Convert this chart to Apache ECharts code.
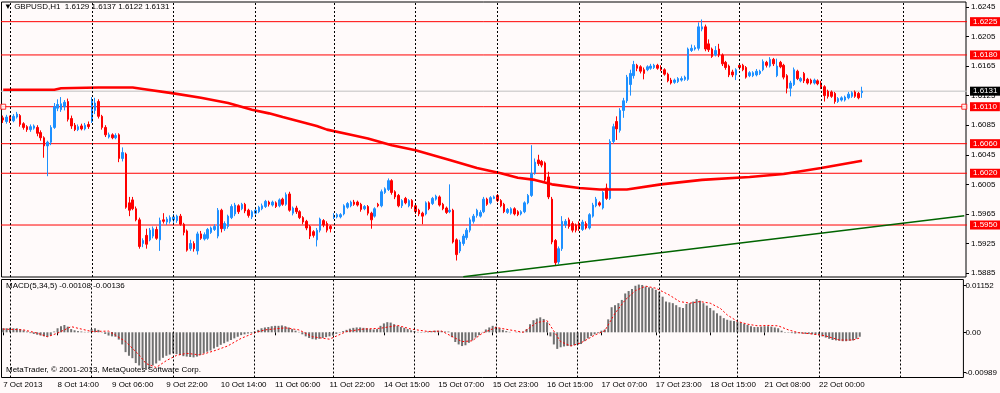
<!DOCTYPE html>
<html><head><meta charset="utf-8">
<script src="https://cdn.jsdelivr.net/npm/echarts@6/dist/echarts.min.js"></script>
<style>html,body{margin:0;padding:0;background:#fffafa}#c{width:1000px;height:393px}</style>
</head><body><div id="c"></div><script>
// ---- time slots (hourly sessions, broker time) ----
const sessions = [['7 Oct',22,23],['8 Oct',0,23],['9 Oct',0,23],['10 Oct',0,23],['11 Oct',0,22],['14 Oct',0,23],['15 Oct',0,23],['16 Oct',0,23],['17 Oct',0,23],['18 Oct',0,22],['21 Oct',0,23],['22 Oct',0,23],['23 Oct',0,23]];
const SLOTS = 283;
const xTickIdx = [0,16,32,48,64,80,96,112,128,144,160,176,192,208,224,240];
const xTickText = ['7 Oct 2013','8 Oct 14:00','9 Oct 06:00','9 Oct 22:00','10 Oct 14:00','11 Oct 06:00','11 Oct 22:00','14 Oct 15:00','15 Oct 07:00','15 Oct 23:00','16 Oct 15:00','17 Oct 07:00','17 Oct 23:00','18 Oct 15:00','21 Oct 08:00','22 Oct 00:00'];
const dayStartIdx = [2,26,50,74,97,121,145,169,193,216,240,264];

// ---- price data (H1 candles) ----
const open = [
1.6095,1.6090,1.6096,1.6091,1.6096,1.6098,1.6087,1.6083,1.6079,1.6081,
1.6082,1.6075,1.6068,1.6057,1.6062,1.6082,1.6108,1.6106,1.6110,1.6117,
1.6094,1.6085,1.6079,1.6084,1.6080,1.6086,1.6090,1.6105,1.6117,1.6097,
1.6082,1.6069,1.6072,1.6068,1.6072,1.6040,1.6046,1.5980,1.5984,1.5972,
1.5957,1.5925,1.5936,1.5930,1.5935,1.5944,1.5930,1.5957,1.5954,1.5955,
1.5957,1.5956,1.5962,1.5951,1.5942,1.5918,1.5925,1.5915,1.5938,1.5931,
1.5932,1.5940,1.5944,1.5935,1.5970,1.5945,1.5948,1.5960,1.5965,1.5976,
1.5972,1.5978,1.5970,1.5961,1.5966,1.5968,1.5972,1.5975,1.5981,1.5977,
1.5980,1.5976,1.5985,1.5978,1.5992,1.5966,1.5973,1.5968,1.5960,1.5955,
1.5948,1.5941,1.5930,1.5943,1.5956,1.5952,1.5948,1.5960,1.5961,1.5961,
1.5965,1.5974,1.5976,1.5981,1.5981,1.5978,1.5972,1.5975,1.5966,1.5962,
1.5978,1.5976,1.5994,1.5998,1.6010,1.5995,1.5990,1.5976,1.5986,1.5976,
1.5983,1.5976,1.5970,1.5966,1.5965,1.5980,1.5979,1.5985,1.5988,1.5978,
1.5973,1.5968,1.5970,1.5930,1.5915,1.5925,1.5933,1.5943,1.5955,1.5963,
1.5962,1.5968,1.5985,1.5980,1.5986,1.5990,1.5983,1.5978,1.5967,1.5966,
1.5972,1.5968,1.5965,1.5968,1.5980,1.5990,1.6020,1.6038,1.6036,1.6034,
1.6015,1.5985,1.5929,1.5900,1.5918,1.5950,1.5957,1.5952,1.5950,1.5952,
1.5944,1.5952,1.5946,1.5962,1.5976,1.5980,1.5973,1.6000,1.5986,1.6063,
1.6090,1.6078,1.6105,1.6118,1.6140,1.6152,1.6166,1.6164,1.6160,1.6160,
1.6162,1.6163,1.6166,1.6163,1.6160,1.6154,1.6146,1.6143,1.6144,1.6146,
1.6147,1.6147,1.6186,1.6188,1.6189,1.6215,1.6218,1.6195,1.6188,1.6180,
1.6188,1.6180,1.6170,1.6165,1.6157,1.6153,1.6166,1.6166,1.6163,1.6152,
1.6152,1.6153,1.6155,1.6160,1.6170,1.6165,1.6174,1.6152,1.6170,1.6166,
1.6152,1.6135,1.6140,1.6158,1.6145,1.6155,1.6147,1.6146,1.6142,1.6145,
1.6142,1.6137,1.6131,1.6130,1.6128,1.6117,1.6119,1.6119,1.6122,1.6124,
1.6130,1.6128,1.6129];
const close = [
1.6092,1.6096,1.6091,1.6097,1.6100,1.6086,1.6082,1.6079,1.6083,1.6084,
1.6074,1.6068,1.6057,1.6062,1.6082,1.6110,1.6113,1.6114,1.6116,1.6093,
1.6084,1.6079,1.6083,1.6080,1.6085,1.6083,1.6118,1.6115,1.6097,1.6082,
1.6072,1.6072,1.6068,1.6071,1.6040,1.6048,1.5974,1.5970,1.5972,1.5957,
1.5921,1.5929,1.5924,1.5943,1.5945,1.5932,1.5956,1.5955,1.5958,1.5960,
1.5961,1.5962,1.5951,1.5940,1.5916,1.5925,1.5918,1.5938,1.5932,1.5937,
1.5944,1.5946,1.5948,1.5970,1.5945,1.5952,1.5962,1.5975,1.5977,1.5968,
1.5978,1.5969,1.5963,1.5968,1.5970,1.5974,1.5976,1.5982,1.5978,1.5981,
1.5975,1.5984,1.5978,1.5991,1.5970,1.5973,1.5968,1.5960,1.5954,1.5946,
1.5935,1.5936,1.5943,1.5958,1.5950,1.5943,1.5945,1.5963,1.5964,1.5964,
1.5976,1.5979,1.5981,1.5978,1.5977,1.5971,1.5975,1.5966,1.5957,1.5972,
1.5976,1.5995,1.5999,1.6010,1.5994,1.5988,1.5976,1.5983,1.5980,1.5983,
1.5975,1.5968,1.5965,1.5962,1.5980,1.5972,1.5986,1.5989,1.5977,1.5972,
1.5967,1.5970,1.5927,1.5910,1.5927,1.5935,1.5943,1.5957,1.5962,1.5970,
1.5967,1.5985,1.5978,1.5987,1.5988,1.5983,1.5976,1.5968,1.5971,1.5972,
1.5965,1.5964,1.5968,1.5980,1.5990,1.6020,1.6035,1.6033,1.6031,1.6011,
1.5988,1.5927,1.5899,1.5918,1.5955,1.5955,1.5948,1.5943,1.5943,1.5945,
1.5954,1.5946,1.5964,1.5977,1.5985,1.5977,1.5994,1.5986,1.6063,1.6083,
1.6080,1.6105,1.6118,1.6150,1.6155,1.6167,1.6162,1.6158,1.6155,1.6164,
1.6165,1.6166,1.6162,1.6160,1.6154,1.6145,1.6142,1.6146,1.6148,1.6148,
1.6150,1.6188,1.6189,1.6190,1.6218,1.6218,1.6188,1.6187,1.6178,1.6186,
1.6180,1.6168,1.6163,1.6153,1.6153,1.6160,1.6163,1.6160,1.6150,1.6156,
1.6156,1.6158,1.6158,1.6171,1.6166,1.6174,1.6168,1.6165,1.6164,1.6150,
1.6135,1.6142,1.6160,1.6148,1.6148,1.6145,1.6142,1.6142,1.6146,1.6141,
1.6136,1.6125,1.6124,1.6124,1.6117,1.6121,1.6122,1.6123,1.6127,1.6129,
1.6124,1.6122,1.6131];
const low = [
1.6088,1.6087,1.6088,1.6089,1.6094,1.6083,1.6079,1.6076,1.6076,1.6079,
1.6070,1.6064,1.6041,1.6016,1.6058,1.6080,1.6104,1.6103,1.6105,1.6090,
1.6080,1.6077,1.6077,1.6078,1.6078,1.6080,1.6088,1.6100,1.6094,1.6079,
1.6069,1.6067,1.6066,1.6066,1.6035,1.6036,1.5972,1.5962,1.5970,1.5955,
1.5918,1.5920,1.5918,1.5928,1.5932,1.5930,1.5915,1.5952,1.5950,1.5952,
1.5953,1.5953,1.5949,1.5936,1.5914,1.5915,1.5914,1.5910,1.5930,1.5929,
1.5930,1.5938,1.5942,1.5932,1.5940,1.5942,1.5945,1.5958,1.5962,1.5965,
1.5970,1.5966,1.5960,1.5958,1.5964,1.5966,1.5970,1.5973,1.5975,1.5975,
1.5973,1.5974,1.5976,1.5976,1.5968,1.5963,1.5965,1.5958,1.5951,1.5943,
1.5931,1.5933,1.5921,1.5940,1.5947,1.5940,1.5940,1.5958,1.5959,1.5959,
1.5963,1.5972,1.5974,1.5976,1.5975,1.5968,1.5970,1.5963,1.5945,1.5960,
1.5974,1.5974,1.5992,1.5996,1.5991,1.5985,1.5974,1.5973,1.5978,1.5974,
1.5972,1.5965,1.5962,1.5951,1.5963,1.5970,1.5977,1.5983,1.5975,1.5970,
1.5965,1.5966,1.5925,1.5902,1.5912,1.5922,1.5930,1.5940,1.5952,1.5960,
1.5960,1.5966,1.5976,1.5978,1.5985,1.5981,1.5974,1.5966,1.5965,1.5964,
1.5963,1.5962,1.5963,1.5966,1.5978,1.5988,1.6018,1.6030,1.6028,1.6008,
1.5985,1.5924,1.5895,1.5897,1.5915,1.5946,1.5945,1.5940,1.5940,1.5942,
1.5942,1.5944,1.5944,1.5960,1.5974,1.5975,1.5971,1.5984,1.5984,1.6060,
1.6065,1.6075,1.6095,1.6115,1.6125,1.6148,1.6158,1.6155,1.6147,1.6158,
1.6160,1.6161,1.6160,1.6158,1.6152,1.6143,1.6140,1.6141,1.6142,1.6144,
1.6145,1.6145,1.6184,1.6186,1.6186,1.6212,1.6185,1.6184,1.6176,1.6178,
1.6177,1.6165,1.6160,1.6150,1.6150,1.6146,1.6160,1.6158,1.6148,1.6150,
1.6150,1.6151,1.6153,1.6158,1.6163,1.6163,1.6165,1.6150,1.6162,1.6147,
1.6128,1.6124,1.6138,1.6146,1.6143,1.6142,1.6140,1.6140,1.6140,1.6139,
1.6134,1.6117,1.6121,1.6122,1.6114,1.6115,1.6117,1.6117,1.6120,1.6122,
1.6122,1.6120,1.6122];
const high = [
1.6098,1.6099,1.6098,1.6100,1.6103,1.6100,1.6089,1.6085,1.6086,1.6086,
1.6085,1.6078,1.6070,1.6064,1.6085,1.6115,1.6120,1.6123,1.6119,1.6121,
1.6098,1.6088,1.6086,1.6087,1.6088,1.6090,1.6123,1.6122,1.6120,1.6099,
1.6085,1.6075,1.6074,1.6074,1.6074,1.6055,1.6048,1.5988,1.5988,1.5975,
1.5960,1.5932,1.5945,1.5946,1.5948,1.5948,1.5960,1.5966,1.5961,1.5963,
1.5965,1.5964,1.5965,1.5953,1.5944,1.5930,1.5928,1.5941,1.5942,1.5940,
1.5946,1.5948,1.5951,1.5973,1.5972,1.5955,1.5964,1.5978,1.5980,1.5978,
1.5980,1.5980,1.5972,1.5970,1.5972,1.5976,1.5979,1.5984,1.5983,1.5983,
1.5982,1.5986,1.5987,1.5994,1.5995,1.5975,1.5976,1.5970,1.5962,1.5957,
1.5950,1.5943,1.5946,1.5960,1.5958,1.5955,1.5950,1.5966,1.5966,1.5966,
1.5978,1.5981,1.5983,1.5984,1.5983,1.5980,1.5977,1.5977,1.5968,1.5974,
1.5980,1.5998,1.6001,1.6013,1.6012,1.5997,1.5992,1.5985,1.5988,1.5985,
1.5985,1.5978,1.5972,1.5968,1.5982,1.5982,1.5988,1.5991,1.5990,1.5980,
1.5975,1.6005,1.5972,1.5932,1.5930,1.5938,1.5946,1.5960,1.5965,1.5972,
1.5970,1.5988,1.5987,1.5989,1.5990,1.5992,1.5985,1.5980,1.5973,1.5974,
1.5974,1.5970,1.5970,1.5982,1.5992,1.6058,1.6040,1.6045,1.6038,1.6036,
1.6022,1.5988,1.5931,1.5921,1.5962,1.5958,1.5960,1.5955,1.5952,1.5955,
1.5957,1.5955,1.5966,1.5980,1.5988,1.5982,1.5996,1.6006,1.6066,1.6087,
1.6097,1.6108,1.6122,1.6153,1.6160,1.6172,1.6168,1.6166,1.6163,1.6166,
1.6168,1.6168,1.6168,1.6166,1.6162,1.6156,1.6149,1.6148,1.6150,1.6151,
1.6152,1.6190,1.6194,1.6193,1.6224,1.6228,1.6221,1.6201,1.6190,1.6192,
1.6195,1.6182,1.6172,1.6167,1.6160,1.6162,1.6168,1.6168,1.6165,1.6158,
1.6158,1.6161,1.6160,1.6174,1.6172,1.6177,1.6176,1.6175,1.6172,1.6168,
1.6154,1.6145,1.6163,1.6160,1.6150,1.6157,1.6149,1.6148,1.6148,1.6147,
1.6145,1.6139,1.6133,1.6132,1.6130,1.6123,1.6124,1.6125,1.6130,1.6131,
1.6132,1.6130,1.6137];

// moving average (read at selected bars)
const maIdx = [0,15,17,28,38,41,50,58,66,73,78,82,87,92,95,102,107,114,121,131,139,146,151,156,161,169,175,183,193,205,219,229,240,252];
const maVal = [1.6133,1.6133,1.6135,1.6136,1.6136,1.6134,1.6128,1.6122,1.6115,1.6106,1.6101,1.6096,1.6090,1.6084,1.6079,1.6072,1.6067,1.6058,1.6051,1.6038,1.6027,1.6020,1.6014,1.6011,1.6005,1.6000,1.5998,1.5998,1.6005,1.6011,1.6015,1.6019,1.6027,1.6037];

// horizontal levels and trend line
const hLevels = [1.6225,1.6180,1.6110,1.6060,1.6020,1.5950];
const trendIdx = [135,282];
const trendVal = [1.5880,1.59625];
const priceTicks = [1.6245,1.6205,1.6165,1.6125,1.6085,1.6045,1.6005,1.5965,1.5925,1.5885];

// MACD
const macdHist = [
0.0010,0.0010,0.0011,0.0010,0.0010,0.0008,0.0005,0.0002,-0.0002,-0.0004,
-0.0006,-0.0008,-0.0010,-0.0011,-0.0008,0.0002,0.0010,0.0015,0.0018,0.0014,
0.0008,0.0005,0.0003,0.0002,0.0001,0.0001,0.0008,0.0010,0.0006,0.0001,
-0.0004,-0.0008,-0.0010,-0.0011,-0.0018,-0.0030,-0.0049,-0.0058,-0.0064,-0.0076,
-0.0082,-0.0089,-0.0093,-0.0090,-0.0082,-0.0077,-0.0070,-0.0063,-0.0058,-0.0055,
-0.0052,-0.0054,-0.0056,-0.0059,-0.0060,-0.0061,-0.0062,-0.0060,-0.0056,-0.0052,
-0.0048,-0.0045,-0.0040,-0.0036,-0.0031,-0.0027,-0.0023,-0.0019,-0.0015,-0.0011,
-0.0007,-0.0005,-0.0003,-0.0002,0.0002,0.0006,0.0010,0.0012,0.0013,0.0015,
0.0016,0.0016,0.0017,0.0015,0.0012,0.0008,0.0004,0.0001,-0.0005,-0.0010,
-0.0014,-0.0017,-0.0018,-0.0016,-0.0014,-0.0012,-0.0010,-0.0008,-0.0004,-0.0001,
0.0003,0.0006,0.0009,0.0011,0.0012,0.0012,0.0011,0.0010,0.0008,0.0007,
0.0008,0.0016,0.0022,0.0025,0.0024,0.0020,0.0016,0.0013,0.0011,0.0008,
0.0005,0.0003,0.0001,-0.0001,0.0001,0.0002,0.0003,0.0004,0.0004,0.0003,
0.0002,0.0002,-0.0012,-0.0024,-0.0030,-0.0034,-0.0032,-0.0026,-0.0020,-0.0013,
-0.0007,0.0001,0.0007,0.0012,0.0016,0.0014,0.0010,0.0006,0.0003,0.0001,
0.0000,0.0001,0.0001,0.0002,0.0008,0.0020,0.0030,0.0034,0.0037,0.0033,
0.0025,-0.0010,-0.0030,-0.0041,-0.0037,-0.0035,-0.0034,-0.0034,-0.0032,-0.0031,
-0.0029,-0.0022,-0.0015,-0.0009,-0.0005,-0.0002,0.0004,0.0007,0.0032,0.0062,
0.0067,0.0072,0.0080,0.0096,0.0102,0.0107,0.0115,0.0118,0.0117,0.0113,
0.0111,0.0109,0.0105,0.0100,0.0088,0.0076,0.0074,0.0072,0.0067,0.0062,
0.0060,0.0070,0.0072,0.0076,0.0082,0.0078,0.0072,0.0066,0.0060,0.0054,
0.0047,0.0041,0.0035,0.0031,0.0029,0.0028,0.0026,0.0024,0.0021,0.0018,
0.0015,0.0013,0.0013,0.0014,0.0015,0.0015,0.0014,0.0012,0.0010,0.0004,
-0.0001,-0.0001,-0.0002,-0.0003,-0.0002,-0.0003,-0.0004,-0.0004,-0.0005,-0.0006,
-0.0007,-0.0010,-0.0013,-0.0016,-0.0019,-0.0020,-0.0021,-0.0022,-0.0022,-0.0021,
-0.0020,-0.0016,-0.0011];
const sigIdx = [0,6,10,13,16,20,23,26,31,33,36,40,42,45,48,51,54,58,62,66,70,74,77,83,87,91,96,101,106,111,116,120,125,129,135,138,141,145,149,153,157,160,164,167,170,174,177,180,183,186,189,192,196,199,202,205,208,211,213,216,219,222,225,228,231,234,238,242,246,250,252];
const sigVal = [0.0008,0.0006,-0.0002,-0.0011,-0.0002,0.0014,0.0008,0.0002,0.0003,-0.0007,-0.0023,-0.0056,-0.0077,-0.0087,-0.0070,-0.0057,-0.0052,-0.0056,-0.0046,-0.0034,-0.0015,-0.0001,0.0006,0.0011,0.0006,-0.0011,-0.0017,0.0002,0.0008,0.0010,0.0017,0.0008,0.0002,0.0003,-0.0023,-0.0021,-0.0002,0.0012,0.0006,0.0000,0.0024,0.0029,-0.0023,-0.0034,-0.0026,-0.0007,0.0004,0.0047,0.0080,0.0103,0.0114,0.0109,0.0092,0.0076,0.0072,0.0076,0.0072,0.0059,0.0043,0.0027,0.0020,0.0016,0.0017,0.0016,0.0006,-0.0001,-0.0004,-0.0009,-0.0019,-0.0019,-0.0014];
const macdTicks = [0.01152,0,-0.00989];
const macdTitle = 'MACD(5,34,5) -0.00108 -0.00136';
const copyright = 'MetaTrader, \u00a9 2001-2013, MetaQuotes Software Corp.';

// ---- build ----
const cats = [];
sessions.forEach(([d,a,b]) => { for (let h=a; h<=b; h++) cats.push(d+' '+String(h).padStart(2,'0')+':00'); });
cats.length = SLOTS;
const last = close.length-1;
const FONT = "'Liberation Sans', Arial, sans-serif";
const tickSet = new Set(xTickIdx);
const candleData = open.map((o,i)=>[o, close[i], low[i], high[i]]);
const dashML = () => ({silent:true, precision:5, symbol:['none','none'], animation:false,
  lineStyle:{color:'#000', width:1, type:[2,2]}, label:{show:false},
  data:dayStartIdx.map(i=>({xAxis:i}))});
const levelSeries = (v, color, bg) => ({
  type:'line', xAxisIndex:0, yAxisIndex:0, data:[[-1,v],[SLOTS,v]], symbol:'none', showSymbol:false, silent:true, z:1,
  lineStyle:{color:color, width:1}, clip:true,
  endLabel:{show:true, formatter:()=>v.toFixed(4), distance:3, backgroundColor:bg, color:'#fff', padding:[1,3,0,3],
    fontSize:8, lineHeight:8, fontFamily:FONT}
});

const chart = echarts.init(document.getElementById('c'));
chart.setOption({
  animation:false,
  backgroundColor:'#fffafa',
  textStyle:{fontFamily:FONT},
  title:[
    {text:'\u25BC GBPUSD,H1  '+[open[last],high[last],low[last],close[last]].map(v=>v.toFixed(4)).join(' '), left:4, top:3, padding:0,
      textStyle:{fontSize:8, fontWeight:'normal', color:'#000', fontFamily:FONT}},
    {text:macdTitle, left:6, top:282, padding:0, textStyle:{fontSize:8, fontWeight:'normal', color:'#000', fontFamily:FONT}},
    {text:copyright, left:6, top:366, padding:0, textStyle:{fontSize:8, fontWeight:'normal', color:'#000', fontFamily:FONT}}
  ],
  grid:[
    {left:1.5, top:2, width:964.5, height:275, show:true, borderColor:'#000', borderWidth:1, backgroundColor:'transparent'},
    {left:1.5, top:279.5, width:964.5, height:98, show:true, borderColor:'#000', borderWidth:1, backgroundColor:'transparent'}
  ],
  xAxis:[
    {type:'category', gridIndex:0, data:cats, boundaryGap:true, axisLine:{show:false}, axisTick:{show:false}, axisLabel:{show:false}, splitLine:{show:false}},
    {type:'category', gridIndex:1, data:cats, boundaryGap:true, axisLine:{show:false},
      axisTick:{show:true, alignWithLabel:true, interval:(i)=>tickSet.has(i), length:3, lineStyle:{color:'#000'}},
      axisLabel:{show:true, interval:(i)=>tickSet.has(i), formatter:(v,i)=>xTickText[xTickIdx.indexOf(i)], align:'left', margin:3, fontSize:8, color:'#000', fontFamily:FONT},
      splitLine:{show:false}}
  ],
  yAxis:[
    {type:'value', gridIndex:0, position:'right', min:1.58797, max:1.62516,
      axisLine:{show:false}, axisTick:{show:true, length:3, customValues:priceTicks, lineStyle:{color:'#000'}},
      axisLabel:{customValues:priceTicks, formatter:v=>v.toFixed(4), fontSize:8, color:'#000', margin:5, fontFamily:FONT},
      splitLine:{show:false}},
    {type:'value', gridIndex:1, position:'right', min:-0.01117, max:0.01305,
      axisLine:{show:false}, axisTick:{show:true, length:3, customValues:macdTicks, lineStyle:{color:'#000'}},
      axisLabel:{customValues:macdTicks, formatter:v=>v===0?'0.00':v.toFixed(5), fontSize:8, color:'#000', margin:2, fontFamily:FONT},
      splitLine:{show:false}}
  ],
  series:[
    {type:'candlestick', xAxisIndex:0, yAxisIndex:0, data:candleData, barWidth:2, z:2,
      itemStyle:{color:'#1e90ff', color0:'#ff0000', borderColor:'#1e90ff', borderColor0:'#ff0000', borderWidth:1},
      markLine:dashML()},
    ...hLevels.map(v=>levelSeries(v, '#ff0000', '#ff0000')),
    levelSeries(close[last], '#c0c0c0', '#000000'),
    {type:'line', xAxisIndex:0, yAxisIndex:0, data:maIdx.map((x,k)=>[x,maVal[k]]), showSymbol:false, symbol:'none',
      lineStyle:{color:'#ff0000', width:2.6}, z:3},
    {type:'line', xAxisIndex:0, yAxisIndex:0, data:trendIdx.map((x,k)=>[x,trendVal[k]]), showSymbol:false, symbol:'none',
      lineStyle:{color:'#006400', width:1.6}, z:3},
    {type:'scatter', xAxisIndex:0, yAxisIndex:0, data:[[0,hLevels[2]],[SLOTS-1,hLevels[2]]], symbol:'rect', symbolSize:5,
      itemStyle:{color:'#fffafa', borderColor:'#ff0000', borderWidth:1}, z:4},
    {type:'bar', xAxisIndex:1, yAxisIndex:1, data:macdHist, barWidth:2, itemStyle:{color:'#707070'},
      markLine:dashML()},
    {type:'line', xAxisIndex:1, yAxisIndex:1, data:sigIdx.map((x,k)=>[x,sigVal[k]]), showSymbol:false, symbol:'none',
      lineStyle:{color:'#ff0000', width:1, type:[2,2]}, z:3}
  ]
});
</script></body></html>
